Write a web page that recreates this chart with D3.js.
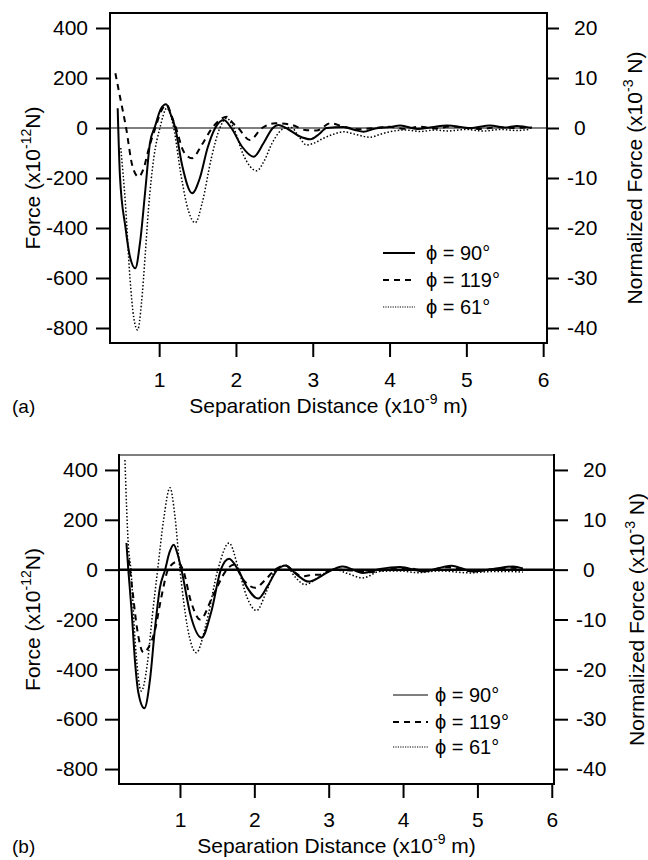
<!DOCTYPE html>
<html>
<head>
<meta charset="utf-8">
<script src="https://cdn.jsdelivr.net/npm/d3@7"></script>
<style>
  body { margin: 0; background: #fff; }
  svg text { font-family: Arial, "Liberation Sans", Helvetica, sans-serif; fill: #000; }
</style>
</head>
<body>
<svg id="chart" width="648" height="860"></svg>
<script>
// tick values
var xTicks = [1, 2, 3, 4, 5, 6];
var leftTicks = [400, 200, 0, -200, -400, -600, -800];
var rightTicks = [20, 10, 0, -10, -20, -30, -40];
var legendLabels = ["\u03d5 = 90\u00b0", "\u03d5 = 119\u00b0", "\u03d5 = 61\u00b0"];

// panel (a): [separation (x1e-9 m), force (x1e-12 N)]
var a90 = [[0.46,79],[0.49,-195],[0.56,-395],[0.62,-515],[0.69,-561],[0.75,-461],[0.82,-248],[0.88,-61],[0.95,10],[1.02,75],[1.09,95],[1.15,55],[1.21,0],[1.30,-150],[1.43,-261],[1.53,-200],[1.63,-80],[1.73,0],[1.84,32],[1.94,0],[2.08,-75],[2.23,-115],[2.36,-60],[2.48,0],[2.55,12],[2.68,-5],[2.82,-32],[2.97,-45],[3.08,-25],[3.18,0],[3.40,4],[3.55,-8],[3.66,-15],[3.80,-3],[4.00,4],[4.14,10],[4.36,-4],[4.55,3],[4.75,10],[5.05,0],[5.31,10],[5.50,2],[5.66,8],[5.85,0]];
var a119 = [[0.43,219],[0.49,125],[0.57,0],[0.65,-150],[0.73,-195],[0.80,-160],[0.86,-88],[0.95,0],[1.03,70],[1.10,92],[1.16,50],[1.22,0],[1.32,-95],[1.43,-121],[1.55,-70],[1.69,0],[1.80,35],[1.88,45],[1.96,20],[2.03,0],[2.18,-48],[2.34,0],[2.51,19],[2.73,12],[2.90,-8],[3.05,-10],[3.23,19],[3.40,5],[3.60,-5],[3.80,0],[4.00,5],[4.20,-3],[4.40,5],[4.60,-2],[4.80,6],[5.00,0],[5.20,-4],[5.40,4],[5.60,0],[5.85,3]];
var a61 = [[0.50,-80],[0.56,-300],[0.62,-600],[0.67,-760],[0.72,-808],[0.77,-700],[0.82,-500],[0.86,-328],[0.93,-120],[1.01,0],[1.10,79],[1.19,0],[1.28,-180],[1.38,-330],[1.47,-379],[1.56,-300],[1.68,-120],[1.79,0],[1.88,39],[1.97,0],[2.10,-110],[2.27,-171],[2.37,-130],[2.47,-61],[2.64,0],[2.72,2],[2.82,-35],[2.92,-68],[3.02,-60],[3.14,-41],[3.27,-25],[3.40,-15],[3.55,-25],[3.75,-37],[3.88,-25],[4.00,-15],[4.20,-8],[4.40,-14],[4.60,-8],[4.75,-12],[5.00,-6],[5.22,-12],[5.45,-6],[5.65,-10],[5.83,-5]];

// panel (b)
var b90 = [[0.28,107],[0.305,0],[0.35,-167],[0.395,-367],[0.44,-493],[0.52,-556],[0.60,-433],[0.66,-247],[0.73,-73],[0.80,0],[0.86,70],[0.915,100],[0.97,60],[1.02,0],[1.14,-180],[1.29,-273],[1.42,-170],[1.55,0],[1.66,44],[1.78,0],[1.90,-70],[2.05,-116],[2.18,-65],[2.31,0],[2.42,17],[2.57,-20],[2.73,-48],[2.85,-35],[2.97,-13],[3.19,13],[3.46,-13],[3.69,3],[3.96,11],[4.27,-7],[4.65,16],[4.94,-7],[5.21,3],[5.48,13],[5.61,5]];
var b119 = [[0.31,40],[0.36,-80],[0.42,-230],[0.51,-333],[0.58,-310],[0.66,-247],[0.75,-110],[0.84,0],[0.955,31],[1.04,0],[1.15,-130],[1.27,-200],[1.45,-100],[1.63,0],[1.72,20],[1.85,-40],[2.01,-73],[2.15,-40],[2.28,0],[2.41,17],[2.52,-5],[2.64,-27],[2.81,-20],[2.88,-20],[3.06,0],[3.30,-3],[3.55,-10],[3.80,2],[4.05,6],[4.30,-5],[4.60,10],[4.90,-5],[5.20,2],[5.45,8],[5.61,3]];
var b61 = [[0.26,440],[0.305,100],[0.34,0],[0.40,-300],[0.48,-487],[0.56,-380],[0.63,-180],[0.70,0],[0.78,200],[0.866,329],[0.93,220],[1.00,0],[1.10,-230],[1.22,-333],[1.35,-220],[1.51,0],[1.66,107],[1.79,0],[1.90,-110],[2.03,-164],[2.16,-90],[2.29,0],[2.42,17],[2.55,-30],[2.68,-60],[2.88,-27],[3.06,3],[3.25,-15],[3.46,-33],[3.69,-7],[3.95,-5],[4.20,-12],[4.50,-5],[4.90,-13],[5.15,-8],[5.39,-7],[5.61,-10]];

var svg = d3.select("#chart");
var fontSize = 21;

var styles = [
  { dash: null, width: 2 },
  { dash: "6,5", width: 2 },
  { dash: "1.5,2", width: 1.5 }
];

function drawPanel(p) {
  var x = d3.scaleLinear().domain(p.xDomain).range([p.left, p.right]);
  var y = d3.scaleLinear().domain([-860, 460]).range([p.bottom, p.top]);
  var y2 = d3.scaleLinear().domain([-43, 23]).range([p.bottom, p.top]);

  var g = svg.append("g");

  // zero line
  g.append("line")
    .attr("x1", p.left).attr("x2", p.right)
    .attr("y1", y(0)).attr("y2", y(0))
    .attr("stroke", "#000").attr("stroke-width", p.zeroWidth);

  // curves
  var line = d3.line()
    .x(function(d) { return x(d[0]); })
    .y(function(d) { return y(d[1]); })
    .curve(d3.curveMonotoneX);

  p.series.forEach(function(s, i) {
    g.append("path")
      .attr("d", line(s))
      .attr("fill", "none")
      .attr("stroke", "#000")
      .attr("stroke-width", styles[i].width)
      .attr("stroke-dasharray", styles[i].dash);
  });

  // frame
  g.append("line").attr("x1", p.left).attr("x2", p.right).attr("y1", p.top).attr("y2", p.top)
    .attr("stroke", "#000").attr("stroke-width", p.topWidth);
  g.append("line").attr("x1", p.left).attr("x2", p.left).attr("y1", p.top - 1).attr("y2", p.bottom + 1)
    .attr("stroke", "#000").attr("stroke-width", 2);
  g.append("line").attr("x1", p.right).attr("x2", p.right).attr("y1", p.top - 1).attr("y2", p.bottom + 1)
    .attr("stroke", "#000").attr("stroke-width", 2);
  g.append("line").attr("x1", p.left - 1).attr("x2", p.right + 1).attr("y1", p.bottom).attr("y2", p.bottom)
    .attr("stroke", "#000").attr("stroke-width", 2);

  // axes
  var xAxis = d3.axisBottom(x).tickValues(xTicks).tickFormat(d3.format("d"))
    .tickSize(14).tickSizeOuter(0).tickPadding(p.xPad);
  var yAxis = d3.axisLeft(y).tickValues(leftTicks).tickSize(14).tickSizeOuter(0).tickPadding(p.yPad);
  var y2Axis = d3.axisRight(y2).tickValues(rightTicks).tickSize(p.rTick).tickSizeOuter(0).tickPadding(p.rPad);

  var gx = g.append("g").attr("transform", "translate(0," + p.bottom + ")").call(xAxis);
  var gy = g.append("g").attr("transform", "translate(" + p.left + ",0)").call(yAxis);
  var gy2 = g.append("g").attr("transform", "translate(" + p.right + ",0)").call(y2Axis);

  [gx, gy, gy2].forEach(function(a) {
    a.select(".domain").remove();
    a.selectAll(".tick line").attr("stroke", "#000").attr("stroke-width", 2);
    a.selectAll(".tick text").style("font-size", fontSize + "px").attr("fill", "#000");
  });
  gy.selectAll(".tick text").text(function(d) { return d; });
  gy2.selectAll(".tick text").text(function(d) { return d; })
    .attr("dx", function(d) { return d < 0 ? 0 : 7; });

  // axis titles (both read bottom to top)
  var t1 = g.append("text")
    .attr("transform", "translate(" + p.yTitleX + "," + ((p.top + p.bottom) / 2) + ") rotate(-90)")
    .attr("text-anchor", "middle").style("font-size", fontSize + "px");
  t1.append("tspan").text("Force (x10");
  t1.append("tspan").attr("dy", -9).style("font-size", "14px").text("-12");
  t1.append("tspan").attr("dy", 9).text("N)");

  var t2 = g.append("text")
    .attr("transform", "translate(" + p.y2TitleX + "," + ((p.top + p.bottom) / 2) + ") rotate(-90)")
    .attr("text-anchor", "middle").style("font-size", fontSize + "px");
  t2.append("tspan").text("Normalized Force (x10");
  t2.append("tspan").attr("dy", -9).style("font-size", "14px").text("-3");
  t2.append("tspan").attr("dy", 9).text(" N)");

  var t3 = g.append("text")
    .attr("x", (p.left + p.right) / 2).attr("y", p.xTitleY)
    .attr("text-anchor", "middle").style("font-size", fontSize + "px");
  t3.append("tspan").text("Separation Distance (x10");
  t3.append("tspan").attr("dy", -9).style("font-size", "14px").text("-9");
  t3.append("tspan").attr("dy", 9).text(" m)");

  g.append("text").attr("x", 12).attr("y", p.xTitleY)
    .style("font-size", "19px").text(p.label);

  // legend
  var lg = g.append("g");
  legendLabels.forEach(function(lab, i) {
    var ly = p.legY[i];
    lg.append("line")
      .attr("x1", p.legX1).attr("x2", p.legX2).attr("y1", ly).attr("y2", ly)
      .attr("stroke", "#000")
      .attr("stroke-width", i === 0 ? p.legSolid : (i === 1 ? 2 : 1.2))
      .attr("stroke-dasharray", i === 0 ? null : (i === 1 ? "6,5" : "1.2,1.2"));
    lg.append("text")
      .attr("x", p.legTextX).attr("y", ly).attr("dy", "0.36em")
      .style("font-size", "20px").text(lab);
  });
}

drawPanel({
  label: "(a)", xDomain: [0.36, 6.05],
  left: 110, right: 547, top: 13, bottom: 343,
  series: [a90, a119, a61],
  zeroWidth: 1.2, topWidth: 2,
  xPad: 15, yPad: 8, rTick: 12, rPad: 8,
  yTitleX: 40, y2TitleX: 642, xTitleY: 413,
  legX1: 383, legX2: 415, legTextX: 426, legY: [253, 280, 307], legSolid: 2
});

drawPanel({
  label: "(b)", xDomain: [0.18, 6.03],
  left: 119, right: 554, top: 455, bottom: 784,
  series: [b90, b119, b61],
  zeroWidth: 2.5, topWidth: 1,
  xPad: 14, yPad: 7, rTick: 14, rPad: 8,
  yTitleX: 40, y2TitleX: 644, xTitleY: 853,
  legX1: 393, legX2: 428, legTextX: 435, legY: [695, 722, 747], legSolid: 1
});
</script>
</body>
</html>
